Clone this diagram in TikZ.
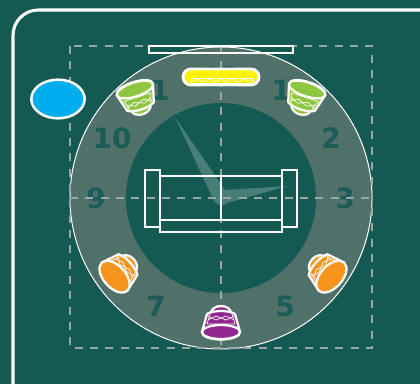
\documentclass[tikz,border=0pt]{standalone}
\usepackage{fontspec}
\setmainfont{DejaVu Sans}
\usetikzlibrary{shapes.geometric}
\definecolor{roombg}{HTML}{145A52}
\definecolor{ringgrey}{HTML}{50706A}
\definecolor{dashgrey}{HTML}{98A8A5}
\definecolor{numgreen}{HTML}{1B5C56}
\definecolor{subblue}{HTML}{00AEEF}
\definecolor{baryellow}{HTML}{FFF200}
\definecolor{spkgreen}{HTML}{8DC63F}
\definecolor{spkorange}{HTML}{F7941D}
\definecolor{spkpurple}{HTML}{92278F}
\tikzset{
  hour/.style={text=numgreen, font=\bfseries\fontsize{21}{21}\selectfont, inner sep=0pt},
  guide/.style={draw=dashgrey, line width=0.9pt, dash pattern=on 6pt off 5.5pt},
  furn/.style={draw=white, line width=2.2pt},
  speaker/.pic={
    % y runs downward, the rim is at the bottom
    \draw[white, line width=1.7pt, fill=\spkcol] (0,-9) ellipse [x radius=10, y radius=7];
    \draw[white, line width=1.7pt, fill=\spkcol, line join=round]
      (-19,10) -- (-14,-8) .. controls (-8,-12) and (8,-12) .. (14,-8) -- (19,10)
      .. controls (19,20) and (-19,20) .. (-19,10) -- cycle;
    \draw[white, line width=0.5pt]
      (-14,2) -- (-11,-8) (14,2) -- (11,-8)
      (-13,-2) -- (-5,-6) -- (5,-2) -- (13,-6) (-13,-6) -- (-5,-2) -- (5,-6) -- (13,-2)
      (-14,2) -- (14,2);
    \draw[white, line width=1.7pt, fill=\spkcol] (0,10) ellipse [x radius=19, y radius=\spkry];
  }
}
\newcommand{\spkcol}{spkgreen}
\newcommand{\spkry}{7}
\begin{document}
\begin{tikzpicture}[x=0.75pt,y=-0.75pt]
\useasboundingbox (0,0) rectangle (420,384);
\fill[roombg] (0,0) rectangle (420,384);
\clip (0,0) rectangle (420,384);
\draw[white, line width=2.3pt, rounded corners=19pt] (13,10) rectangle (460,424);
% clock face
\draw[white, fill=ringgrey, line width=0.75pt] (221,198) circle [radius=151];
\fill[roombg] (221,198) circle [radius=95];
\node[hour] (h12) at (221,77) {12};
\node[hour] (h11) at (150,90) {11};
\node[hour] (h1) at (281,90) {1};
\node[hour] (h10) at (112,138) {10};
\node[hour] (h2) at (331,138) {2};
\node[hour] (h9) at (96,198) {9};
\node[hour] (h3) at (345,198) {3};
\node[hour] (h7) at (156,306) {7};
\node[hour] (h5) at (285,306) {5};
% hands
\fill[white, opacity=0.22] (175,117) -- (225,190) -- (288,186) -- (227,203)
  .. controls (222,207) and (218,207) .. (213,199) -- cycle;
\draw[guide] (70,46) rectangle (372,348);
\draw[guide] (70,198) -- (372,198);
\draw[guide] (221,46) -- (221,348);
% screen and sound bar
\draw[furn] (149,46) rectangle (293,53);
\draw[white, line width=2.2pt, fill=baryellow, rounded corners=6pt] (183,69) rectangle (259,85);
\draw[white, line width=0.5pt] (191,78) rectangle (252,83);
\draw[white, line width=0.5pt] (193,81) -- (198,79) -- (204,82) -- (210,79) -- (216,82) -- (221,79)
  -- (226,82) -- (232,79) -- (238,82) -- (244,79) -- (250,81);
% sofa
\draw[furn] (145,170) rectangle (160,227);
\draw[furn] (282,170) rectangle (297,227);
\draw[furn] (160,176) rectangle (282,220);
\draw[furn] (160,220) rectangle (282,232);
\draw[furn] (221,176) -- (221,220);
% subwoofer
\node[draw=white, line width=1.9pt, fill=subblue, ellipse, minimum width=40pt, minimum height=29pt, inner sep=0pt] (sub) at (58,99) {};
% speakers
\pic[rotate=198] at (138,99) {speaker};
\pic[rotate=162] at (304,99) {speaker};
\renewcommand{\spkcol}{spkorange}\renewcommand{\spkry}{11}
\pic[rotate=-48] at (122,270) {speaker};
\pic[rotate=48] at (324,270) {speaker};
\renewcommand{\spkcol}{spkpurple}\renewcommand{\spkry}{7}
\pic at (221,322) {speaker};
\end{tikzpicture}
\end{document}
